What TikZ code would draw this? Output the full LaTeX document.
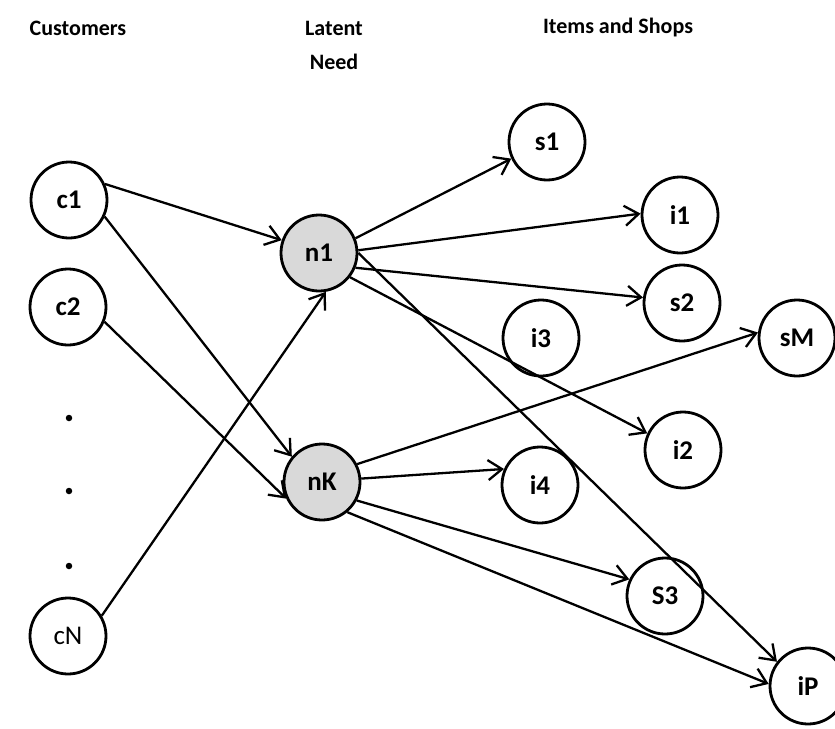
\documentclass[tikz,border=0pt]{standalone}
\usepackage{fontspec}
\setmainfont{Carlito}
\usetikzlibrary{arrows.meta}
\definecolor{needgray}{HTML}{D9D9D9}
\tikzset{
  entity/.style={circle, draw=black, line width=2.8pt, fill=white,
    minimum size=76pt, inner sep=0pt, font=\fontsize{27}{30}\selectfont\bfseries},
  need/.style={entity, fill=needgray},
  heading/.style={font=\fontsize{22}{34}\selectfont\bfseries, align=center},
  dotmark/.style={circle, fill=black, inner sep=0pt, minimum size=6.5pt},
  ar/.style={-{Straight Barb[length=14pt,width=20pt,line width=2.3pt]}, line width=2.3pt},
}
\begin{document}
\begin{tikzpicture}[x=1pt, y=-1pt]
  \useasboundingbox (0,0) rectangle (835,728);

  % column headings
  \node[heading] (hcust) at (78,28) {Customers};
  \node[heading] (hneed) at (334,45) {Latent\\Need};
  \node[heading] (hitem) at (618,28) {Items and Shops};

  % customers
  \node[entity] (c1) at (69,200) {c1};
  \node[entity] (c2) at (68,307) {c2};
  \node[dotmark] (d1) at (69,418) {};
  \node[dotmark] (d2) at (69,491) {};
  \node[dotmark] (d3) at (69,566) {};
  \node[entity, font=\fontsize{27}{30}\selectfont] (cN) at (68,636) {cN};

  % latent needs
  \node[need] (n1) at (319,253) {n1};
  \node[need] (nK) at (322,482) {nK};

  % items and shops
  \node[entity] (s1) at (547,142) {s1};
  \node[entity] (i1) at (680,215) {i1};
  \node[entity] (s2) at (682,303) {s2};
  \node[entity] (i3) at (541,338) {i3};
  \node[entity] (sM) at (797,338) {sM};
  \node[entity] (i2) at (683,450) {i2};
  \node[entity] (i4) at (540,485) {i4};
  \node[entity] (S3) at (665,596) {S3};
  \node[entity] (iP) at (808,686) {iP};

  % customer -> need
  \draw[ar] (c1.24) -- (n1.161);
  \draw[ar] (c1.-25) -- (nK.140);
  \draw[ar] (c2.-22) -- (nK.205);
  \draw[ar] (cN.31) -- (n1.-80);

  % need -> item / shop
  \draw[ar] (n1.22) -- (s1.205);
  \draw[ar] (n1.4) -- (i1.178);
  \draw[ar] (n1.-22) -- (s2.172);
  \draw[ar] (n1.-38) -- (i2.155);
  \draw[ar] (n1.0) -- (iP.142);
  \draw[ar] (nK.27) -- (sM.172);
  \draw[ar] (nK.5) -- (i4.156);
  \draw[ar] (nK.-28) -- (S3.155);
  \draw[ar] (nK.-50) -- (iP.177);
\end{tikzpicture}
\end{document}
